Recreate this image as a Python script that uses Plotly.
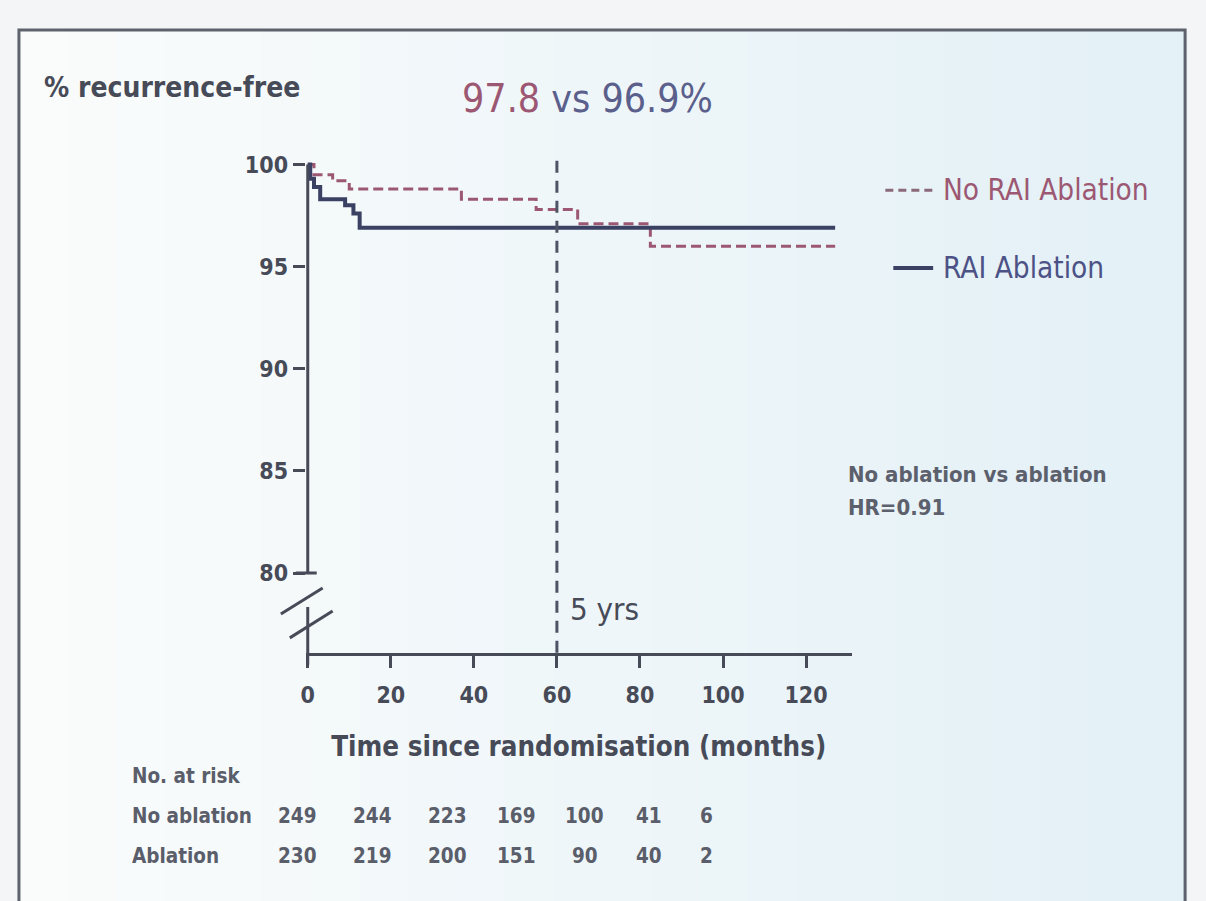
import plotly.graph_objects as go

# ---- data -------------------------------------------------------------
# Kaplan-Meier step curves (% recurrence-free by months since randomisation)
no_rai_months = [0, 1.5, 6, 10, 37, 55, 65, 82.5, 127]
no_rai_pct = [100, 99.5, 99.2, 98.8, 98.3, 97.8, 97.1, 96.0, 96.0]

rai_months = [0, 0.6, 1.5, 3, 9, 11, 12.5, 127]
rai_pct = [100, 99.3, 98.9, 98.3, 98.0, 97.6, 96.9, 96.9]

x_ticks = [0, 20, 40, 60, 80, 100, 120]
y_ticks = [80, 85, 90, 95, 100]

risk_rows = ["No ablation", "Ablation"]
risk_no_ablation = [249, 244, 223, 169, 100, 41, 6]
risk_ablation = [230, 219, 200, 151, 90, 40, 2]

five_year_no_rai = 97.8
five_year_rai = 96.9
hazard_ratio = 0.91
landmark_month = 60

# ---- styling ----------------------------------------------------------
W, H = 1206, 901
FONT = "Liberation Sans Narrow, Arial Narrow, DejaVu Sans Condensed, sans-serif"
INK = "#474b58"
MAUVE = "#9c5872"
NAVY = "#3b4163"
NAVY_TXT = "#4d5286"

ORIGIN_X = 304          # page x of month 0
MONTH_PX = 4.17         # page pixels per month
PCT_PX = 20.5           # page pixels per percentage point
Y100 = 162              # page y of 100 %
AXIS_Y = 652            # page y of the time axis
TOP_Y = 152

X_RANGE = [-0.5, 131]
Y_RANGE = [100 - (AXIS_Y - Y100) / PCT_PX, 100 + (Y100 - TOP_Y) / PCT_PX]


def px(x):
    return x / W


def py(y):
    return 1 - y / H


fig = go.Figure()

fig.add_trace(go.Scatter(
    x=no_rai_months, y=no_rai_pct, mode="lines", line_shape="hv",
    line=dict(color=MAUVE, width=3, dash="10px,5px"),
    name="No RAI Ablation", showlegend=False, hoverinfo="skip"))
fig.add_trace(go.Scatter(
    x=rai_months, y=rai_pct, mode="lines", line_shape="hv",
    line=dict(color=NAVY, width=4),
    name="RAI Ablation", showlegend=False, hoverinfo="skip"))

shapes = []

# soft background wash, white on the left turning pale blue to the right
bands = 24
for i in range(bands):
    t = i / (bands - 1)
    r = int(250 + (228 - 250) * t)
    g = int(252 + (241 - 252) * t)
    b = int(252 + (247 - 252) * t)
    x0 = 14 + (1186 - 14) * i / bands
    x1 = 14 + (1186 - 14) * (i + 1) / bands + 1
    shapes.append(dict(type="rect", xref="paper", yref="paper",
                       x0=px(x0), x1=px(x1), y0=0, y1=py(27),
                       fillcolor=f"rgb({r},{g},{b})", line_width=0, layer="below"))

# slide frame
shapes.append(dict(type="rect", xref="paper", yref="paper",
                   x0=px(14), x1=px(1185), y0=py(905), y1=py(27),
                   line=dict(color="#5e626c", width=3), layer="below"))

# y-axis line from 80 to 100 with the cap at 80
shapes.append(dict(type="line", xref="x", yref="y", x0=0, x1=0, y0=80, y1=100,
                   line=dict(color=INK, width=3)))
shapes.append(dict(type="line", xref="paper", yref="y", x0=px(ORIGIN_X - 12), x1=px(ORIGIN_X + 9),
                   y0=80, y1=80, line=dict(color=INK, width=3)))
# axis break marks and the short stub down to the time axis
shapes.append(dict(type="line", xref="paper", yref="paper", x0=px(277), x1=px(319),
                   y0=py(613), y1=py(587), line=dict(color=INK, width=3)))
shapes.append(dict(type="line", xref="paper", yref="paper", x0=px(286), x1=px(329),
                   y0=py(637), y1=py(610), line=dict(color=INK, width=3)))
shapes.append(dict(type="line", xref="paper", yref="paper", x0=px(ORIGIN_X), x1=px(ORIGIN_X),
                   y0=py(606), y1=py(AXIS_Y + 12), line=dict(color=INK, width=3)))

# 5-year landmark
shapes.append(dict(type="line", xref="x", yref="paper", x0=landmark_month, x1=landmark_month,
                   y0=py(AXIS_Y), y1=py(TOP_Y), line=dict(color="#4f5464", width=3, dash="12px,8px")))

# legend samples
shapes.append(dict(type="line", xref="paper", yref="paper", x0=px(884), x1=px(934),
                   y0=py(188), y1=py(188), line=dict(color="#8a6a78", width=3, dash="8px,5px")))
shapes.append(dict(type="line", xref="paper", yref="paper", x0=px(892), x1=px(932),
                   y0=py(266), y1=py(266), line=dict(color=NAVY, width=4)))

annotations = []


def note(x, y, text, size, color=INK, xanchor="left", bold=False):
    if bold:
        text = f"<b>{text}</b>"
    annotations.append(dict(xref="paper", yref="paper", x=px(x), y=py(y), text=text,
                            showarrow=False, xanchor=xanchor, yanchor="middle",
                            font=dict(family=FONT, size=size, color=color)))


note(37, 85, "% recurrence-free", 28, bold=True)
note(457, 96,
     f"<span style='color:{MAUVE}'>{five_year_no_rai}</span>"
     f"<span style='color:#5b5f8c'> vs {five_year_rai}%</span>", 39)
note(940, 188, "No RAI Ablation", 29.5, color=MAUVE)
note(940, 266, "RAI Ablation", 29.5, color=NAVY_TXT)
note(845, 473, "No ablation vs ablation", 22, color="#5c606c", bold=True)
note(845, 506, f"HR={hazard_ratio}", 22, color="#5c606c", bold=True)
note(565, 608, "5 yrs", 31)

# numbers at risk table
note(126, 776, "No. at risk", 20.5, color="#5a5e6a", bold=True)
col_x = [294, 369, 444, 514, 582, 647, 704]
row_y = [816, 856]
for label, counts, yy in zip(risk_rows, [risk_no_ablation, risk_ablation], row_y):
    note(126, yy, label, 20.5, color="#5a5e6a", bold=True)
    for cx, n in zip(col_x, counts):
        note(cx, yy, str(n), 20.5, color="#5a5e6a", xanchor="center", bold=True)

fig.update_layout(
    width=W, height=H,
    margin=dict(l=0, r=0, t=0, b=0),
    paper_bgcolor="#f3f5f7",
    plot_bgcolor="rgba(0,0,0,0)",
    showlegend=False,
    shapes=shapes,
    annotations=annotations,
    xaxis=dict(
        domain=[px(ORIGIN_X + X_RANGE[0] * MONTH_PX), px(ORIGIN_X + X_RANGE[1] * MONTH_PX)],
        range=X_RANGE, tickvals=x_ticks, ticktext=[f"<b>{v}</b>" for v in x_ticks],
        showgrid=False, zeroline=False, showline=True, linecolor=INK, linewidth=3,
        ticks="outside", ticklen=12, tickwidth=3, tickcolor=INK, ticklabelstandoff=8,
        tickfont=dict(family=FONT, size=23, color=INK),
        title=dict(text="<b>Time since randomisation (months)</b>", standoff=30,
                   font=dict(family=FONT, size=27.5, color=INK)),
    ),
    yaxis=dict(
        domain=[py(AXIS_Y), py(TOP_Y)],
        range=Y_RANGE, tickvals=y_ticks, ticktext=[f"<b>{v}</b>" for v in y_ticks],
        showgrid=False, zeroline=False, showline=False,
        ticks="outside", ticklen=12, tickwidth=3, tickcolor=INK,
        tickfont=dict(family=FONT, size=23, color=INK),
    ),
)

fig.write_html("out.html")
